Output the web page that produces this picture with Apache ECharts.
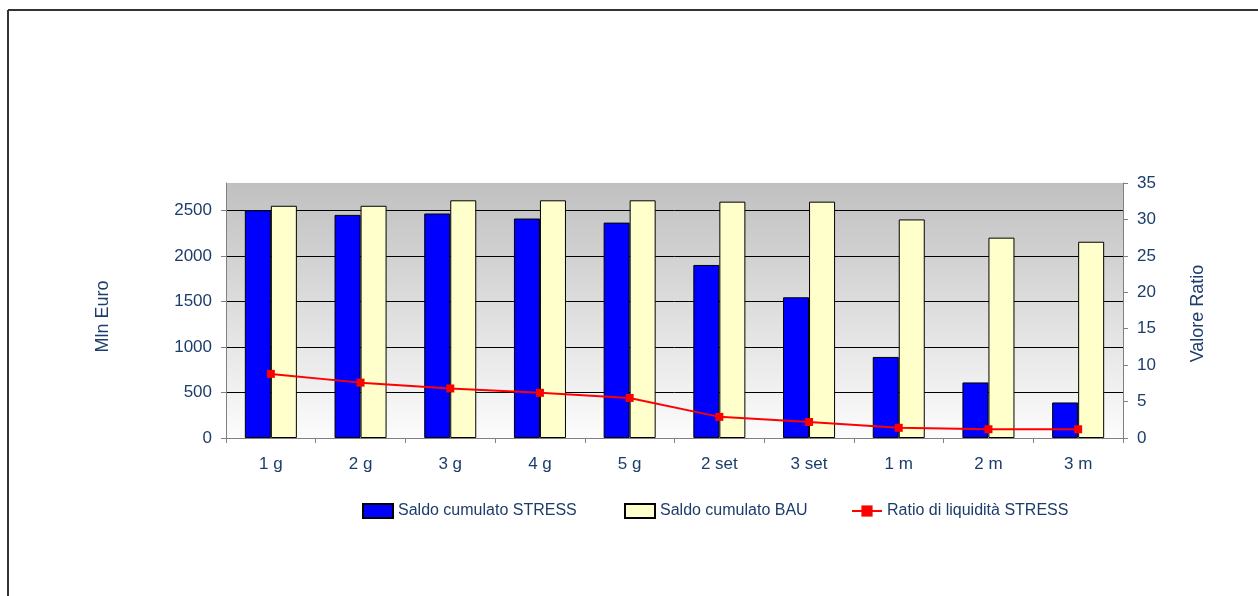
<!DOCTYPE html>
<html>
<head>
<meta charset="utf-8">
<script src="https://cdn.jsdelivr.net/npm/echarts@6/dist/echarts.min.js"></script>
<style>
  html, body { margin: 0; padding: 0; background: #ffffff; }
  #chart { width: 1258px; height: 596px; }
</style>
</head>
<body>
<div id="chart"></div>
<script>
// Scadenze (time buckets)
const categories = ['1 g', '2 g', '3 g', '4 g', '5 g', '2 set', '3 set', '1 m', '2 m', '3 m'];
// Saldo cumulato (Mln Euro)
const saldoStress = [2500, 2450, 2465, 2410, 2365, 1900, 1545, 890, 610, 390];
const saldoBau = [2550, 2550, 2610, 2610, 2610, 2595, 2595, 2400, 2200, 2155];
// Ratio di liquidità (right axis)
const ratioStress = [8.8, 7.6, 6.8, 6.2, 5.5, 2.9, 2.2, 1.4, 1.2, 1.2];

const seriesNames = ['Saldo cumulato STRESS', 'Saldo cumulato BAU', 'Ratio di liquidità STRESS'];

const txt = '#1c3d6b';
const font = '"Liberation Sans", Arial, sans-serif';

const chart = echarts.init(document.getElementById('chart'), null, { renderer: 'canvas' });

function legendAt(left, name, icon) {
  return {
    left: left, top: 498,
    itemWidth: 30, itemHeight: 14, itemGap: 0,
    icon: icon,
    textStyle: { color: txt, fontFamily: font, fontSize: 16 },
    data: [name],
    selectedMode: false
  };
}

chart.setOption({
  animation: false,
  textStyle: { fontFamily: font },
  graphic: [
    { type: 'line', shape: { x1: 8, y1: 10, x2: 1258, y2: 10 }, style: { stroke: '#333', lineWidth: 2 } },
    { type: 'line', shape: { x1: 8, y1: 10, x2: 8, y2: 596 }, style: { stroke: '#333', lineWidth: 2 } }
  ],
  legend: [
    legendAt(357, seriesNames[0], 'rect'),
    legendAt(619, seriesNames[1], 'rect'),
    legendAt(846, seriesNames[2])
  ],
  grid: {
    left: 226, right: 135, top: 183, bottom: 158,
    show: true, borderWidth: 0,
    backgroundColor: {
      type: 'linear', x: 0, y: 0, x2: 0, y2: 1,
      colorStops: [
        { offset: 0, color: '#c0c0c0' },
        { offset: 0.1, color: '#c6c6c6' },
        { offset: 1, color: '#fcfcfc' }
      ]
    }
  },
  xAxis: {
    type: 'category',
    data: categories,
    axisLine: { lineStyle: { color: '#808080', width: 1 } },
    axisTick: { show: true, length: 5, lineStyle: { color: '#808080' } },
    axisLabel: { color: txt, fontSize: 17, margin: 18, fontFamily: font }
  },
  yAxis: [
    {
      type: 'value', min: 0, max: 2800, interval: 500,
      name: 'Mln Euro', nameLocation: 'middle', nameGap: 114, nameRotate: 90,
      nameTextStyle: { color: txt, fontSize: 18, fontFamily: font, padding: [0, 12, 0, 0] },
      axisLine: { show: true, lineStyle: { color: '#808080' } },
      axisTick: { show: true, length: 5, lineStyle: { color: '#808080' } },
      axisLabel: { color: txt, fontSize: 17, margin: 14, showMaxLabel: false, fontFamily: font, formatter: v => String(v) },
      splitLine: { show: true, showMaxLine: false, showMinLine: false, lineStyle: { color: '#000', width: 1 } }
    },
    {
      type: 'value', min: 0, max: 35, interval: 5, position: 'right',
      name: 'Valore Ratio', nameLocation: 'middle', nameGap: 66, nameRotate: 90,
      nameTextStyle: { color: txt, fontSize: 18, fontFamily: font, padding: [0, 6, 0, 0] },
      axisLine: { show: true, lineStyle: { color: '#808080' } },
      axisTick: { show: true, length: 5, lineStyle: { color: '#808080' } },
      axisLabel: { color: txt, fontSize: 17, margin: 14, fontFamily: font },
      splitLine: { show: false }
    }
  ],
  series: [
    {
      name: seriesNames[0], type: 'bar', data: saldoStress,
      barGap: '0%', barCategoryGap: '42%',
      itemStyle: { color: '#0000ff', borderColor: '#000', borderWidth: 1 }
    },
    {
      name: seriesNames[1], type: 'bar', data: saldoBau,
      itemStyle: { color: '#ffffcc', borderColor: '#000', borderWidth: 1 }
    },
    {
      name: seriesNames[2], type: 'line', yAxisIndex: 1, data: ratioStress,
      symbol: 'rect', symbolSize: 8,
      lineStyle: { color: '#ff0000', width: 2 },
      itemStyle: { color: '#ff0000' }
    }
  ]
});
</script>
</body>
</html>
